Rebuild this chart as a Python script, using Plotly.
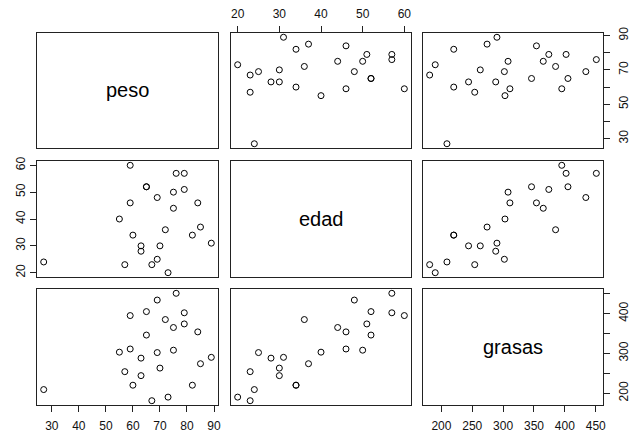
import plotly.graph_objects as go

var_names = ["peso", "edad", "grasas"]
peso = [84, 73, 65, 70, 76, 69, 63, 72, 79, 75, 27, 89, 65, 57, 59, 69, 60, 79, 75, 82, 59, 67, 85, 55, 63]
edad = [46, 20, 52, 30, 57, 25, 28, 36, 57, 44, 24, 31, 52, 23, 60, 48, 34, 51, 50, 34, 46, 23, 37, 40, 30]
grasas = [354, 190, 405, 263, 451, 302, 288, 385, 402, 365, 209, 290, 346, 254, 395, 434, 220, 374, 308, 220, 311, 181, 274, 303, 244]

peso_ticks = [30, 40, 50, 60, 70, 80, 90]
edad_ticks = [20, 30, 40, 50, 60]
grasas_ticks = [200, 250, 300, 350, 400, 450]
peso_right_labels = ["30", "", "50", "", "70", "", "90"]
grasas_right_labels = ["200", "", "300", "", "400", ""]

data = [peso, edad, grasas]
ticks = [peso_ticks, edad_ticks, grasas_ticks]

W, H = 634, 432
col_px = [(37, 218), (231, 411), (423, 603)]
row_px = [(33, 148), (161, 277), (289, 405)]


def rng(v):
    lo, hi = min(v), max(v)
    d = (hi - lo) * 0.04
    return [lo - d, hi + d]


fig = go.Figure()
font = dict(family="Liberation Sans, Arial, sans-serif", size=12, color="#111")

for r in range(3):
    for c in range(3):
        k = r * 3 + c + 1
        xa = "x" if k == 1 else f"x{k}"
        ya = "y" if k == 1 else f"y{k}"
        xkey = "xaxis" if k == 1 else f"xaxis{k}"
        ykey = "yaxis" if k == 1 else f"yaxis{k}"
        x0, x1 = col_px[c]
        y0, y1 = row_px[r]
        xaxis = dict(domain=[x0 / W, x1 / W], anchor=ya, range=rng(data[c]),
                     showgrid=False, zeroline=False, showline=True, mirror=True,
                     linecolor="#222", linewidth=1, ticks="", showticklabels=False,
                     fixedrange=True, automargin=False)
        yaxis = dict(domain=[1 - y1 / H, 1 - y0 / H], anchor=xa, range=rng(data[r]),
                     showgrid=False, zeroline=False, showline=True, mirror=True,
                     linecolor="#222", linewidth=1, ticks="", showticklabels=False,
                     fixedrange=True, automargin=False)
        if r == 2 and c % 2 == 0:
            xaxis.update(side="bottom", ticks="outside", ticklen=6, tickcolor="#222",
                         tickvals=ticks[c], ticktext=[str(t) for t in ticks[c]],
                         showticklabels=True, tickfont=font, ticklabelstandoff=4)
        if r == 0 and c % 2 == 1:
            xaxis.update(side="top", ticks="outside", ticklen=6, tickcolor="#222",
                         tickvals=ticks[c], ticktext=[str(t) for t in ticks[c]],
                         showticklabels=True, tickfont=font, ticklabelstandoff=3)
        if c == 0 and r % 2 == 1:
            yaxis.update(side="left", ticks="outside", ticklen=6, tickcolor="#222",
                         tickvals=ticks[r], ticktext=[str(t) for t in ticks[r]],
                         showticklabels=True, tickfont=font, tickangle=-90,
                         ticklabelstandoff=0)
        if c == 2 and r % 2 == 0:
            labels = peso_right_labels if r == 0 else grasas_right_labels
            yaxis.update(side="right", ticks="outside", ticklen=6, tickcolor="#222",
                         tickvals=ticks[r], ticktext=labels,
                         showticklabels=True, tickfont=font, tickangle=-90,
                         ticklabelstandoff=4)
        fig.update_layout({xkey: xaxis, ykey: yaxis})
        if r == c:
            fig.add_annotation(x=(x0 + x1) / 2 / W, y=1 - (y0 + y1) / 2 / H,
                               xref="paper", yref="paper", text=var_names[r],
                               xanchor="center", yanchor="middle",
                               showarrow=False,
                               font=dict(family="Liberation Sans, Arial, sans-serif",
                                         size=20, color="black"))
            fig.add_trace(go.Scatter(x=[sum(rng(data[c])) / 2], y=[sum(rng(data[r])) / 2],
                                     mode="markers", xaxis=xa, yaxis=ya,
                                     showlegend=False, hoverinfo="skip",
                                     marker=dict(opacity=0)))
        else:
            fig.add_trace(go.Scatter(x=data[c], y=data[r], mode="markers",
                                     xaxis=xa, yaxis=ya, showlegend=False,
                                     hoverinfo="skip",
                                     marker=dict(symbol="circle-open", size=6,
                                                 color="black",
                                                 line=dict(width=1, color="black"))))

fig.update_layout(width=W, height=H, margin=dict(l=0, r=0, t=0, b=0),
                  paper_bgcolor="white", plot_bgcolor="white", showlegend=False)

fig.write_html("out.html", config={"displayModeBar": False},
               post_script="document.body.style.margin='0';document.body.style.overflow='hidden';")
